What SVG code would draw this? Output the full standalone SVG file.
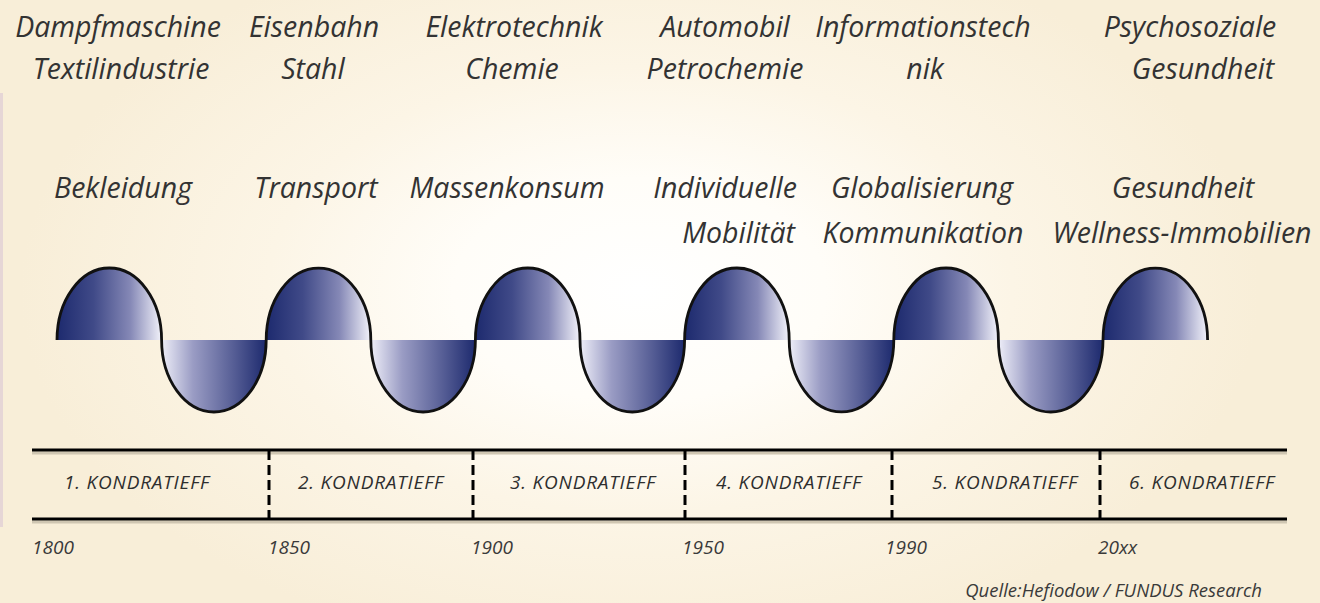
<svg xmlns="http://www.w3.org/2000/svg" width="1320" height="603" viewBox="0 0 1320 603">
<defs>
<style>
.lbl{font-family:"Open Sans","Liberation Sans",sans-serif;font-style:italic;font-size:28.5px;fill:#333;text-anchor:middle}
.end{text-anchor:end}
.kon{font-family:"Open Sans","Liberation Sans",sans-serif;font-style:italic;font-size:19px;letter-spacing:0.8px;fill:#2e2e2e;text-anchor:middle}
.yr{font-family:"Open Sans","Liberation Sans",sans-serif;font-style:italic;font-size:19px;fill:#3a3a3a}
.src{font-family:"Open Sans","Liberation Sans",sans-serif;font-style:italic;font-size:18.5px;fill:#3a3a3a;text-anchor:end}
.crest{fill:url(#gCrest)}
.trough{fill:url(#gTrough)}
.wave{fill:none;stroke:#111;stroke-width:2.8}
.hl{stroke:#000;stroke-width:3;fill:none}
.hls{stroke:#cfc6b2;stroke-width:3;fill:none}
.dl{stroke:#000;stroke-width:3;stroke-dasharray:10 5;fill:none}
</style>
<radialGradient id="bg" cx="640" cy="290" r="620" gradientUnits="userSpaceOnUse" gradientTransform="translate(640 290) scale(1 0.6) translate(-640 -290)">
<stop offset="0" stop-color="#ffffff"/>
<stop offset="0.3" stop-color="#fffdf8"/>
<stop offset="0.6" stop-color="#fcf5e6"/>
<stop offset="1" stop-color="#f8eed8"/>
</radialGradient>
<linearGradient id="gCrest" x1="0" y1="0" x2="1" y2="0">
<stop offset="0" stop-color="#1d2a6e"/>
<stop offset="0.35" stop-color="#404a88"/>
<stop offset="0.7" stop-color="#8588b6"/>
<stop offset="1" stop-color="#f2f2fa"/>
</linearGradient>
<linearGradient id="gTrough" x1="0" y1="0" x2="1" y2="0">
<stop offset="0" stop-color="#eeeef8"/>
<stop offset="0.3" stop-color="#9a9cc4"/>
<stop offset="0.7" stop-color="#545c94"/>
<stop offset="1" stop-color="#1d2a6e"/>
</linearGradient>
</defs>

<g id="background">
<rect x="0" y="0" width="1320" height="603" fill="url(#bg)"/>
<rect x="0" y="93" width="3" height="434" fill="#e6d6d6"/>
</g>

<g id="wave">
<path class="crest" d="M57,340 A52.3,72 0 0 1 161.6,340 Z"/>
<path class="trough" d="M161.6,340 A52.3,72 0 0 0 266.2,340 Z"/>
<path class="crest" d="M266.2,340 A52.3,72 0 0 1 370.8,340 Z"/>
<path class="trough" d="M370.8,340 A52.3,72 0 0 0 475.4,340 Z"/>
<path class="crest" d="M475.4,340 A52.3,72 0 0 1 580,340 Z"/>
<path class="trough" d="M580,340 A52.3,72 0 0 0 684.6,340 Z"/>
<path class="crest" d="M684.6,340 A52.3,72 0 0 1 789.2,340 Z"/>
<path class="trough" d="M789.2,340 A52.3,72 0 0 0 893.8,340 Z"/>
<path class="crest" d="M893.8,340 A52.3,72 0 0 1 998.4,340 Z"/>
<path class="trough" d="M998.4,340 A52.3,72 0 0 0 1103,340 Z"/>
<path class="crest" d="M1103,340 A52.3,72 0 0 1 1207.6,340 Z"/>
<path class="wave" d="M57,340 A52.3,72 0 0 1 161.6,340 A52.3,72 0 0 0 266.2,340 A52.3,72 0 0 1 370.8,340 A52.3,72 0 0 0 475.4,340 A52.3,72 0 0 1 580,340 A52.3,72 0 0 0 684.6,340 A52.3,72 0 0 1 789.2,340 A52.3,72 0 0 0 893.8,340 A52.3,72 0 0 1 998.4,340 A52.3,72 0 0 0 1103,340 A52.3,72 0 0 1 1207.6,340"/>
</g>

<g id="industries">
<text class="lbl" x="118" y="37">Dampfmaschine</text>
<text class="lbl" x="121" y="79">Textilindustrie</text>
<text class="lbl" x="314" y="37">Eisenbahn</text>
<text class="lbl" x="313" y="79">Stahl</text>
<text class="lbl" x="514" y="37">Elektrotechnik</text>
<text class="lbl" x="512" y="79">Chemie</text>
<text class="lbl" x="725" y="37">Automobil</text>
<text class="lbl" x="725" y="79">Petrochemie</text>
<text class="lbl" x="923" y="37">Informationstech</text>
<text class="lbl" x="925" y="79">nik</text>
<text class="lbl" x="1190" y="37">Psychosoziale</text>
<text class="lbl" x="1203" y="79">Gesundheit</text>
</g>

<g id="markets">
<text class="lbl" x="123" y="198">Bekleidung</text>
<text class="lbl" x="316" y="198">Transport</text>
<text class="lbl" x="507" y="198">Massenkonsum</text>
<text class="lbl end" x="797" y="198">Individuelle</text>
<text class="lbl end" x="795" y="243">Mobilität</text>
<text class="lbl" x="922" y="198">Globalisierung</text>
<text class="lbl" x="923" y="243">Kommunikation</text>
<text class="lbl" x="1183" y="198">Gesundheit</text>
<text class="lbl" x="1182" y="243">Wellness-Immobilien</text>
</g>

<g id="timeline">
<line class="hls" x1="32" y1="453" x2="1287" y2="453"/>
<line class="hls" x1="32" y1="522" x2="1287" y2="522"/>
<line class="hl" x1="32" y1="450" x2="1287" y2="450"/>
<line class="hl" x1="32" y1="519" x2="1287" y2="519"/>
<line class="dl" x1="269" y1="450" x2="269" y2="519"/>
<line class="dl" x1="473" y1="450" x2="473" y2="519"/>
<line class="dl" x1="685" y1="450" x2="685" y2="519"/>
<line class="dl" x1="892" y1="450" x2="892" y2="519"/>
<line class="dl" x1="1100" y1="450" x2="1100" y2="519"/>
</g>

<g id="kondratieff">
<text class="kon" x="137" y="489">1. KONDRATIEFF</text>
<text class="kon" x="371" y="489">2. KONDRATIEFF</text>
<text class="kon" x="583" y="489">3. KONDRATIEFF</text>
<text class="kon" x="789" y="489">4. KONDRATIEFF</text>
<text class="kon" x="1005" y="489">5. KONDRATIEFF</text>
<text class="kon" x="1202" y="489">6. KONDRATIEFF</text>
</g>

<g id="years">
<text class="yr" x="32" y="554">1800</text>
<text class="yr" x="268" y="554">1850</text>
<text class="yr" x="471" y="554">1900</text>
<text class="yr" x="682" y="554">1950</text>
<text class="yr" x="885" y="554">1990</text>
<text class="yr" x="1098" y="554">20xx</text>
</g>

<g id="source">
<text class="src" x="1262" y="597">Quelle:Hefiodow /  FUNDUS Research</text>
</g>
</svg>
